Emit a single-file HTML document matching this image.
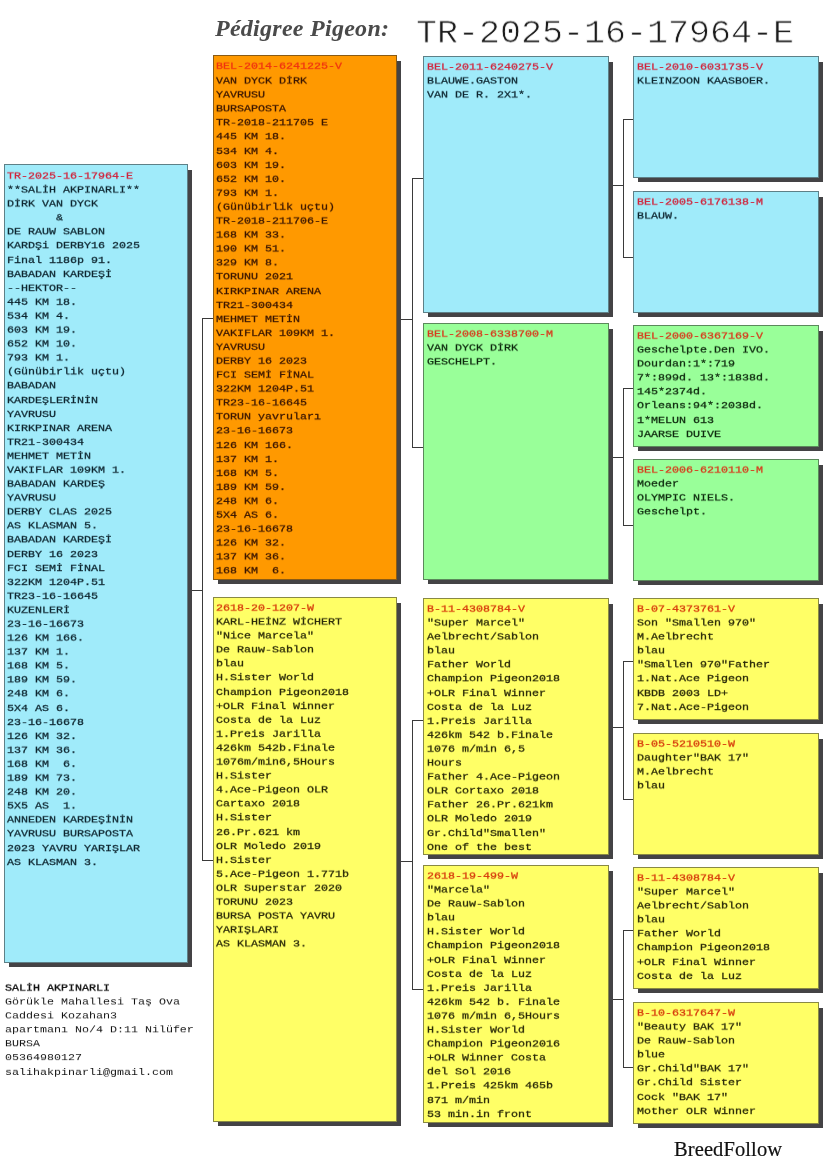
<!DOCTYPE html>
<html lang="tr"><head><meta charset="utf-8"><title>Pedigree Pigeon TR-2025-16-17964-E</title>
<style>
html,body{margin:0;padding:0;background:#fff;}
body{width:825px;height:1172px;position:relative;overflow:hidden;font-family:"Liberation Mono","DejaVu Sans Mono",monospace;}
.sh{position:absolute;background:#444345;}
.bx{position:absolute;box-sizing:border-box;border:1px solid rgba(40,40,40,.55);overflow:hidden;}
.bx pre{margin:0;position:absolute;left:2px;top:4px;font-family:"Liberation Mono","DejaVu Sans Mono",monospace;font-weight:normal;font-size:11.67px;line-height:16.092px;color:var(--t);white-space:pre;letter-spacing:0;transform:scaleY(.87);transform-origin:0 0;-webkit-text-stroke:.32px currentColor;will-change:transform;}
.bx pre b{color:var(--r,#e02424);font-weight:normal;position:relative;top:var(--bs,0px);}
.ln{position:absolute;background:#3a3a3a;}
.h1{will-change:transform;position:absolute;left:215px;top:10px;font-family:"Liberation Serif",serif;font-style:italic;font-weight:bold;font-size:24px;line-height:36px;color:#4a4a4a;white-space:nowrap;letter-spacing:.27px;}
.h2{will-change:transform;position:absolute;left:416px;top:14.6px;transform:scaleY(.945);transform-origin:0 0;font-family:"Liberation Mono",monospace;font-size:35px;line-height:40px;color:#1c1c1c;white-space:nowrap;-webkit-text-stroke:.75px #fff;}
.addr{will-change:transform;position:absolute;left:5px;top:980.5px;margin:0;font-family:"Liberation Mono",monospace;font-size:11.67px;line-height:16.092px;color:#111;white-space:pre;transform:scaleY(.87);transform-origin:0 0;}
.addr b{font-weight:normal;-webkit-text-stroke:.4px currentColor;}
.bf{will-change:transform;position:absolute;left:674px;top:1135px;letter-spacing:.1px;font-family:"Liberation Serif",serif;font-size:20.5px;line-height:28px;color:#111;-webkit-text-stroke:.2px #111;white-space:nowrap;}
</style></head><body>
<div class="h1">Pédigree Pigeon:</div>
<div class="h2">TR-2025-16-17964-E</div>
<div class="sh" style="left:9px;top:170px;width:183px;height:797px"></div>
<div class="sh" style="left:218px;top:61px;width:183px;height:523px"></div>
<div class="sh" style="left:218px;top:603px;width:183px;height:523px"></div>
<div class="sh" style="left:428px;top:62px;width:185px;height:255px"></div>
<div class="sh" style="left:428px;top:329px;width:185px;height:255px"></div>
<div class="sh" style="left:428px;top:604px;width:185px;height:255px"></div>
<div class="sh" style="left:428px;top:871px;width:185px;height:256px"></div>
<div class="sh" style="left:638px;top:62px;width:185px;height:120px"></div>
<div class="sh" style="left:638px;top:197px;width:185px;height:120px"></div>
<div class="sh" style="left:638px;top:331px;width:185px;height:120px"></div>
<div class="sh" style="left:638px;top:465px;width:185px;height:120px"></div>
<div class="sh" style="left:638px;top:604px;width:185px;height:120px"></div>
<div class="sh" style="left:638px;top:739px;width:185px;height:120px"></div>
<div class="sh" style="left:638px;top:873px;width:185px;height:120px"></div>
<div class="sh" style="left:638px;top:1008px;width:185px;height:120px"></div>
<div class="bx" style="left:4px;top:164px;width:184px;height:799px;background:#a0ebfa;--t:#0e2630;--r:#d0243c;--bs:0px"><pre style="left:2px;top:4px"><b>TR-2025-16-17964-E</b>
**SALİH AKPINARLI**
DİRK VAN DYCK
       &amp;
DE RAUW SABLON
KARDŞi DERBY16 2025
Final 1186p 91.
BABADAN KARDEŞİ
--HEKTOR--
445 KM 18.
534 KM 4.
603 KM 19.
652 KM 10.
793 KM 1.
(Günübirlik uçtu)
BABADAN
KARDEŞLERİNİN
YAVRUSU
KIRKPINAR ARENA
TR21-300434
MEHMET METİN
VAKIFLAR 109KM 1.
BABADAN KARDEŞ
YAVRUSU
DERBY CLAS 2025
AS KLASMAN 5.
BABADAN KARDEŞİ
DERBY 16 2023
FCI SEMİ FİNAL
322KM 1204P.51
TR23-16-16645
KUZENLERİ
23-16-16673
126 KM 166.
137 KM 1.
168 KM 5.
189 KM 59.
248 KM 6.
5X4 AS 6.
23-16-16678
126 KM 32.
137 KM 36.
168 KM  6.
189 KM 73.
248 KM 20.
5X5 AS  1.
ANNEDEN KARDEŞİNİN
YAVRUSU BURSAPOSTA
2023 YAVRU YARIŞLAR
AS KLASMAN 3.</pre></div>
<div class="bx" style="left:213px;top:55px;width:184px;height:525px;background:#ff9900;--t:#3a1600;--r:#f03210;--bs:-1px"><pre style="left:2px;top:4px"><b>BEL-2014-6241225-V</b>
VAN DYCK DİRK
YAVRUSU
BURSAPOSTA
TR-2018-211705 E
445 KM 18.
534 KM 4.
603 KM 19.
652 KM 10.
793 KM 1.
(Günübirlik uçtu)
TR-2018-211706-E
168 KM 33.
190 KM 51.
329 KM 8.
TORUNU 2021
KIRKPINAR ARENA
TR21-300434
MEHMET METİN
VAKIFLAR 109KM 1.
YAVRUSU
DERBY 16 2023
FCI SEMİ FİNAL
322KM 1204P.51
TR23-16-16645
TORUN yavruları
23-16-16673
126 KM 166.
137 KM 1.
168 KM 5.
189 KM 59.
248 KM 6.
5X4 AS 6.
23-16-16678
126 KM 32.
137 KM 36.
168 KM  6.</pre></div>
<div class="bx" style="left:213px;top:597px;width:184px;height:525px;background:#ffff66;--t:#2a2a08;--r:#d63a0c;--bs:-.3px"><pre style="left:2px;top:3.3px"><b>2618-20-1207-W</b>
KARL-HEİNZ WİCHERT
"Nice Marcela"
De Rauw-Sablon
blau
H.Sister World
Champion Pigeon2018
+OLR Final Winner
Costa de la Luz
1.Preis Jarilla
426km 542b.Finale
1076m/min6,5Hours
H.Sister
4.Ace-Pigeon OLR
Cartaxo 2018
H.Sister
26.Pr.621 km
OLR Moledo 2019
H.Sister
5.Ace-Pigeon 1.771b
OLR Superstar 2020
TORUNU 2023
BURSA POSTA YAVRU
YARIŞLARI
AS KLASMAN 3.</pre></div>
<div class="bx" style="left:423px;top:56px;width:186px;height:257px;background:#a0ebfa;--t:#0e2630;--r:#d0243c;--bs:0px"><pre style="left:3px;top:3px"><b>BEL-2011-6240275-V</b>
BLAUWE.GASTON
VAN DE R. 2X1*.</pre></div>
<div class="bx" style="left:423px;top:323px;width:186px;height:257px;background:#99ff99;--t:#0e2a0e;--r:#d83a1c;--bs:0px"><pre style="left:3px;top:3px"><b>BEL-2008-6338700-M</b>
VAN DYCK DİRK
GESCHELPT.</pre></div>
<div class="bx" style="left:423px;top:598px;width:186px;height:257px;background:#ffff66;--t:#2a2a08;--r:#d63a0c;--bs:0px"><pre style="left:3px;top:3px"><b>B-11-4308784-V</b>
"Super Marcel"
Aelbrecht/Sablon
blau
Father World
Champion Pigeon2018
+OLR Final Winner
Costa de la Luz
1.Preis Jarilla
426km 542 b.Finale
1076 m/min 6,5
Hours
Father 4.Ace-Pigeon
OLR Cortaxo 2018
Father 26.Pr.621km
OLR Moledo 2019
Gr.Child"Smallen"
One of the best</pre></div>
<div class="bx" style="left:423px;top:865px;width:186px;height:258px;background:#ffff66;--t:#2a2a08;--r:#d63a0c;--bs:0px"><pre style="left:3px;top:3px"><b>2618-19-499-W</b>
"Marcela"
De Rauw-Sablon
blau
H.Sister World
Champion Pigeon2018
+OLR Final Winner
Costa de la Luz
1.Preis Jarilla
426km 542 b. Finale
1076 m/min 6,5Hours
H.Sister World
Champion Pigeon2016
+OLR Winner Costa
del Sol 2016
1.Preis 425km 465b
871 m/min
53 min.in front</pre></div>
<div class="bx" style="left:633px;top:56px;width:186px;height:122px;background:#a0ebfa;--t:#0e2630;--r:#d0243c;--bs:0px"><pre style="left:3px;top:3px"><b>BEL-2010-6031735-V</b>
KLEINZOON KAASBOER.</pre></div>
<div class="bx" style="left:633px;top:191px;width:186px;height:122px;background:#a0ebfa;--t:#0e2630;--r:#d0243c;--bs:0px"><pre style="left:3px;top:3px"><b>BEL-2005-6176138-M</b>
BLAUW.</pre></div>
<div class="bx" style="left:633px;top:325px;width:186px;height:122px;background:#99ff99;--t:#0e2a0e;--r:#d83a1c;--bs:0px"><pre style="left:3px;top:3px"><b>BEL-2000-6367169-V</b>
Geschelpte.Den IVO.
Dourdan:1*:719
7*:899d. 13*:1838d.
145*2374d.
Orleans:94*:2038d.
1*MELUN 613
JAARSE DUIVE</pre></div>
<div class="bx" style="left:633px;top:459px;width:186px;height:122px;background:#99ff99;--t:#0e2a0e;--r:#d83a1c;--bs:0px"><pre style="left:3px;top:3px"><b>BEL-2006-6210110-M</b>
Moeder
OLYMPIC NIELS.
Geschelpt.</pre></div>
<div class="bx" style="left:633px;top:598px;width:186px;height:122px;background:#ffff66;--t:#2a2a08;--r:#d63a0c;--bs:0px"><pre style="left:3px;top:3px"><b>B-07-4373761-V</b>
Son "Smallen 970"
M.Aelbrecht
blau
"Smallen 970"Father
1.Nat.Ace Pigeon
KBDB 2003 LD+
7.Nat.Ace-Pigeon</pre></div>
<div class="bx" style="left:633px;top:733px;width:186px;height:122px;background:#ffff66;--t:#2a2a08;--r:#d63a0c;--bs:0px"><pre style="left:3px;top:3px"><b>B-05-5210510-W</b>
Daughter"BAK 17"
M.Aelbrecht
blau</pre></div>
<div class="bx" style="left:633px;top:867px;width:186px;height:122px;background:#ffff66;--t:#2a2a08;--r:#d63a0c;--bs:0px"><pre style="left:3px;top:3px"><b>B-11-4308784-V</b>
"Super Marcel"
Aelbrecht/Sablon
blau
Father World
Champion Pigeon2018
+OLR Final Winner
Costa de la Luz</pre></div>
<div class="bx" style="left:633px;top:1002px;width:186px;height:122px;background:#ffff66;--t:#2a2a08;--r:#d63a0c;--bs:0px"><pre style="left:3px;top:3px"><b>B-10-6317647-W</b>
"Beauty BAK 17"
De Rauw-Sablon
blue
Gr.Child"BAK 17"
Gr.Child Sister
Cock "BAK 17"
Mother OLR Winner</pre></div>
<div class="ln" style="left:202px;top:318px;width:1px;height:543px"></div>
<div class="ln" style="left:192px;top:590px;width:10px;height:1px"></div>
<div class="ln" style="left:202px;top:318px;width:11px;height:1px"></div>
<div class="ln" style="left:202px;top:860px;width:11px;height:1px"></div>
<div class="ln" style="left:412px;top:178px;width:1px;height:270px"></div>
<div class="ln" style="left:401px;top:319px;width:11px;height:1px"></div>
<div class="ln" style="left:412px;top:178px;width:11px;height:1px"></div>
<div class="ln" style="left:412px;top:447px;width:11px;height:1px"></div>
<div class="ln" style="left:412px;top:720px;width:1px;height:270px"></div>
<div class="ln" style="left:401px;top:861px;width:11px;height:1px"></div>
<div class="ln" style="left:412px;top:720px;width:11px;height:1px"></div>
<div class="ln" style="left:412px;top:989px;width:11px;height:1px"></div>
<div class="ln" style="left:623px;top:119px;width:1px;height:139px"></div>
<div class="ln" style="left:613px;top:185px;width:10px;height:1px"></div>
<div class="ln" style="left:623px;top:119px;width:10px;height:1px"></div>
<div class="ln" style="left:623px;top:257px;width:10px;height:1px"></div>
<div class="ln" style="left:623px;top:388px;width:1px;height:138px"></div>
<div class="ln" style="left:613px;top:457px;width:10px;height:1px"></div>
<div class="ln" style="left:623px;top:388px;width:10px;height:1px"></div>
<div class="ln" style="left:623px;top:525px;width:10px;height:1px"></div>
<div class="ln" style="left:623px;top:661px;width:1px;height:139px"></div>
<div class="ln" style="left:613px;top:727px;width:10px;height:1px"></div>
<div class="ln" style="left:623px;top:661px;width:10px;height:1px"></div>
<div class="ln" style="left:623px;top:799px;width:10px;height:1px"></div>
<div class="ln" style="left:623px;top:930px;width:1px;height:138px"></div>
<div class="ln" style="left:613px;top:999px;width:10px;height:1px"></div>
<div class="ln" style="left:623px;top:930px;width:10px;height:1px"></div>
<div class="ln" style="left:623px;top:1067px;width:10px;height:1px"></div>
<pre class="addr"><b>SALİH AKPINARLI</b>
Görükle Mahallesi Taş Ova
Caddesi Kozahan3
apartmanı No/4 D:11 Nilüfer
BURSA
05364980127
salihakpinarli@gmail.com</pre>
<div class="bf">BreedFollow</div>
</body></html>
